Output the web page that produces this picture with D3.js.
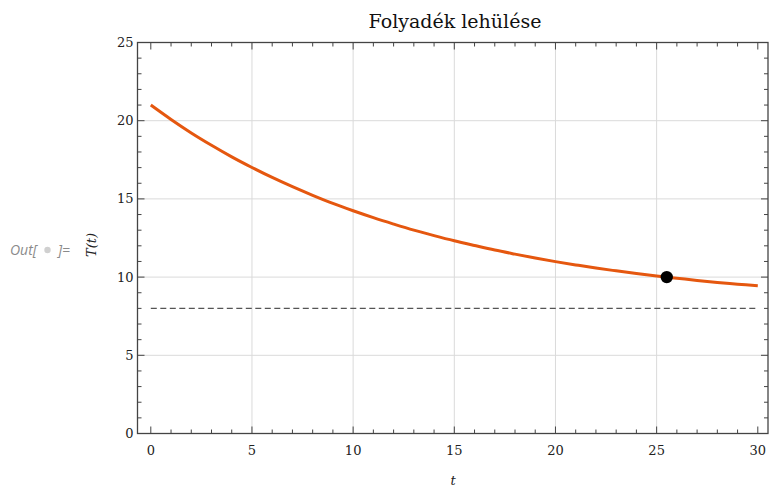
<!DOCTYPE html>
<html>
<head>
<meta charset="utf-8">
<script src="https://cdn.jsdelivr.net/npm/d3@7"></script>
<style>
  html, body { margin: 0; padding: 0; background: #fff; }
  svg { display: block; }
</style>
</head>
<body>
<svg id="chart" width="769" height="492"></svg>
<script>
// Cooling curve of a liquid: temperature T(t) sampled once per time unit
const times = [0,1,2,3,4,5,6,7,8,9,10,11,12,13,14,15,16,17,18,19,20,21,22,23,24,25,26,27,28,29,30];
const temps = [21.00,20.08,19.22,18.43,17.69,17.01,16.37,15.78,15.23,14.71,14.24,13.80,13.39,13.00,12.65,12.32,12.02,11.73,11.47,11.22,10.99,10.78,10.58,10.40,10.23,10.07,9.93,9.79,9.66,9.55,9.44];
// Ambient temperature (asymptote) and the marked moment
const ambient = [8];
const marker = [{ t: 25.5, T: 10 }];
const xTicks = [0, 5, 10, 15, 20, 25, 30];
const yTicks = [0, 5, 10, 15, 20, 25];

const svg = d3.select("#chart");
const frame = { left: 137.5, right: 768, top: 42.5, bottom: 433.5 };

const x = d3.scaleLinear().domain([0, 30]).range([150.8, 757.8]);
const y = d3.scaleLinear().domain([0, 25]).range([433.5, 42.5]);

const serif = "'DejaVu Serif', 'Liberation Serif', serif";

// Grid lines at major ticks
const grid = svg.append("g").attr("stroke", "#dadada").attr("stroke-width", 1);
xTicks.filter(d => d > 0 && d < 30).forEach(d => {
  grid.append("line").attr("x1", x(d)).attr("x2", x(d)).attr("y1", frame.top).attr("y2", frame.bottom);
});
yTicks.filter(d => d > 0 && d < 25).forEach(d => {
  grid.append("line").attr("x1", frame.left).attr("x2", frame.right).attr("y1", y(d)).attr("y2", y(d));
});

// Ambient temperature, dashed
svg.append("line")
  .attr("x1", x(0)).attr("x2", x(30))
  .attr("y1", y(ambient[0])).attr("y2", y(ambient[0]))
  .attr("stroke", "#555").attr("stroke-width", 1.2)
  .attr("stroke-dasharray", "6,3.5");

// Frame
svg.append("rect")
  .attr("x", frame.left).attr("y", frame.top)
  .attr("width", frame.right - frame.left).attr("height", frame.bottom - frame.top)
  .attr("fill", "none").attr("stroke", "#444").attr("stroke-width", 1.3);

// Tick marks on all four sides, pointing inward
const ticks = svg.append("g").attr("stroke", "#444").attr("stroke-width", 1);
d3.range(0, 31, 1).forEach(v => {
  const len = v % 5 === 0 ? 7 : 4;
  ticks.append("line").attr("x1", x(v)).attr("x2", x(v)).attr("y1", frame.bottom).attr("y2", frame.bottom - len);
  ticks.append("line").attr("x1", x(v)).attr("x2", x(v)).attr("y1", frame.top).attr("y2", frame.top + len);
});
d3.range(0, 26, 1).forEach(v => {
  const len = v % 5 === 0 ? 7 : 4;
  ticks.append("line").attr("x1", frame.left).attr("x2", frame.left + len).attr("y1", y(v)).attr("y2", y(v));
  ticks.append("line").attr("x1", frame.right).attr("x2", frame.right - len).attr("y1", y(v)).attr("y2", y(v));
});

// Tick labels
svg.append("g").selectAll("text").data(xTicks).join("text")
  .attr("x", d => x(d)).attr("y", frame.bottom + 21)
  .attr("text-anchor", "middle")
  .attr("font-family", serif).attr("font-size", 13).attr("fill", "#222")
  .text(d => d);
svg.append("g").selectAll("text").data(yTicks).join("text")
  .attr("x", frame.left - 4).attr("y", d => y(d) + 4.5)
  .attr("text-anchor", "end")
  .attr("font-family", serif).attr("font-size", 13).attr("fill", "#222")
  .text(d => d);

// Temperature curve
const line = d3.line()
  .x((d, i) => x(times[i]))
  .y(d => y(d))
  .curve(d3.curveCatmullRom);
svg.append("path")
  .datum(temps)
  .attr("d", line)
  .attr("fill", "none")
  .attr("stroke", "#e5570f")
  .attr("stroke-width", 3);

// Marked point
svg.selectAll("circle.mark").data(marker).join("circle")
  .attr("class", "mark")
  .attr("cx", d => x(d.t)).attr("cy", d => y(d.T))
  .attr("r", 6.2).attr("fill", "#000");

// Title and axis labels
svg.append("text")
  .attr("x", 455).attr("y", 28)
  .attr("text-anchor", "middle")
  .attr("font-family", serif).attr("font-size", 19).attr("fill", "#111")
  .text("Folyadék lehülése");

svg.append("text")
  .attr("x", 453).attr("y", 485)
  .attr("text-anchor", "middle")
  .attr("font-family", serif).attr("font-style", "italic").attr("font-size", 13).attr("fill", "#222")
  .text("t");

svg.append("text")
  .attr("transform", "translate(96,245) rotate(-90)")
  .attr("text-anchor", "middle")
  .attr("font-family", serif).attr("font-style", "italic").attr("font-size", 13).attr("fill", "#222")
  .text("T(t)");

// Output cell label
const out = svg.append("g").attr("font-family", "'Open Sans', 'Liberation Sans', sans-serif")
  .attr("font-style", "italic").attr("font-size", 14).attr("fill", "#8a8a8a");
out.append("text").attr("x", 10).attr("y", 255).text("Out[");
out.append("circle").attr("cx", 47.5).attr("cy", 250).attr("r", 3.2).attr("fill", "#d0d0d0");
out.append("text").attr("x", 58).attr("y", 255).text("]=");
</script>
</body>
</html>
